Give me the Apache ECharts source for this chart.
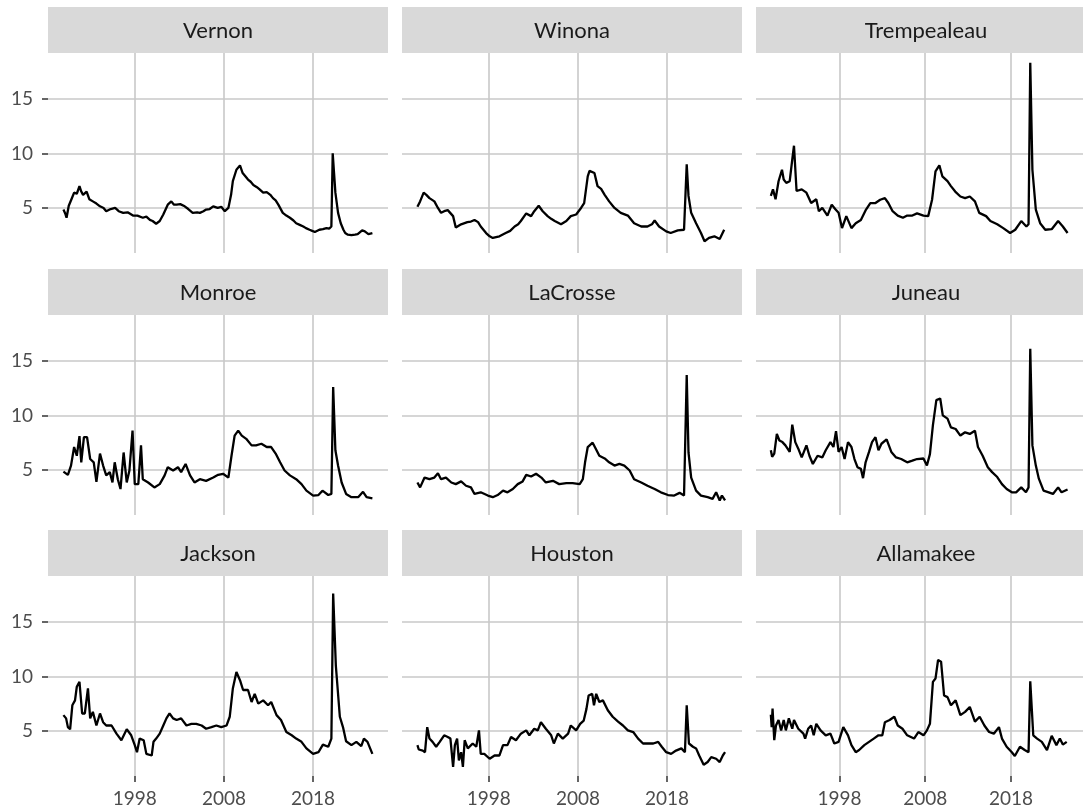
<!DOCTYPE html>
<html>
<head>
<meta charset="utf-8">
<script src="https://cdn.jsdelivr.net/npm/echarts@6/dist/echarts.min.js"></script>
<style>
  html, body { margin: 0; padding: 0; background: #fff; }
  #chart { width: 1083px; height: 810px; }
</style>
</head>
<body>
<div id="chart"></div>
<script>
// monthly unemployment rate as [year, rate]
var vernon = [[1990.0, 4.85], [1990.2, 4.5], [1990.35, 4.1], [1990.6, 5.2], [1990.9, 5.8], [1991.2, 6.4], [1991.5, 6.3], [1991.8, 7.0], [1992.0, 6.5], [1992.2, 6.2], [1992.6, 6.5], [1992.9, 5.8], [1993.3, 5.6], [1993.7, 5.4], [1994.1, 5.15], [1994.5, 5.0], [1994.8, 4.7], [1995.3, 4.9], [1995.8, 5.0], [1996.2, 4.7], [1996.7, 4.55], [1997.2, 4.6], [1997.8, 4.3], [1998.3, 4.3], [1998.9, 4.1], [1999.3, 4.2], [1999.7, 3.9], [2000.0, 3.8], [2000.4, 3.55], [2000.8, 3.8], [2001.2, 4.4], [2001.7, 5.3], [2002.1, 5.6], [2002.4, 5.3], [2002.7, 5.3], [2003.1, 5.35], [2003.6, 5.15], [2004.0, 4.9], [2004.5, 4.55], [2005.0, 4.6], [2005.3, 4.55], [2005.7, 4.7], [2006.0, 4.85], [2006.4, 4.9], [2006.8, 5.15], [2007.3, 5.0], [2007.7, 5.1], [2008.1, 4.7], [2008.5, 5.0], [2008.8, 6.2], [2009.0, 7.45], [2009.4, 8.5], [2009.8, 8.9], [2010.1, 8.2], [2010.4, 7.9], [2010.7, 7.6], [2011.0, 7.4], [2011.3, 7.1], [2011.7, 6.9], [2012.0, 6.7], [2012.4, 6.4], [2012.8, 6.45], [2013.2, 6.2], [2013.5, 5.9], [2013.8, 5.7], [2014.1, 5.3], [2014.6, 4.55], [2015.0, 4.3], [2015.4, 4.1], [2015.8, 3.85], [2016.1, 3.6], [2016.5, 3.45], [2016.9, 3.3], [2017.2, 3.15], [2017.6, 3.0], [2017.9, 2.9], [2018.2, 2.8], [2018.7, 3.0], [2019.1, 3.05], [2019.5, 3.15], [2019.8, 3.1], [2020.05, 3.3], [2020.2, 10.0], [2020.35, 8.2], [2020.5, 6.4], [2020.8, 4.55], [2021.1, 3.6], [2021.4, 3.0], [2021.6, 2.7], [2021.9, 2.55], [2022.3, 2.5], [2022.7, 2.55], [2023.0, 2.6], [2023.2, 2.75], [2023.5, 2.95], [2023.8, 2.85], [2024.2, 2.6], [2024.65, 2.7]];
var winona = [[1990.0, 5.1], [1990.3, 5.6], [1990.7, 6.4], [1991.0, 6.2], [1991.35, 5.9], [1991.9, 5.6], [1992.3, 5.0], [1992.65, 4.55], [1993.0, 4.7], [1993.4, 4.8], [1994.0, 4.25], [1994.3, 3.2], [1994.9, 3.5], [1995.6, 3.7], [1996.0, 3.75], [1996.4, 3.9], [1996.8, 3.7], [1997.1, 3.3], [1997.7, 2.7], [1998.1, 2.4], [1998.45, 2.25], [1999.2, 2.4], [1999.9, 2.7], [2000.4, 2.9], [2000.9, 3.3], [2001.3, 3.5], [2001.6, 3.8], [2002.2, 4.5], [2002.75, 4.25], [2003.1, 4.7], [2003.6, 5.2], [2004.05, 4.7], [2004.6, 4.25], [2005.0, 4.0], [2005.4, 3.8], [2006.1, 3.5], [2006.7, 3.8], [2007.2, 4.25], [2007.8, 4.4], [2008.35, 5.0], [2008.7, 5.45], [2009.1, 7.9], [2009.3, 8.4], [2009.5, 8.5], [2009.85, 8.2], [2010.2, 7.0], [2010.6, 6.75], [2011.0, 6.2], [2011.5, 5.6], [2012.1, 5.0], [2012.8, 4.55], [2013.6, 4.3], [2014.3, 3.6], [2015.1, 3.3], [2015.8, 3.3], [2016.3, 3.5], [2016.6, 3.85], [2017.1, 3.3], [2017.9, 2.85], [2018.4, 2.7], [2019.2, 2.95], [2019.9, 3.0], [2020.2, 9.0], [2020.4, 6.1], [2020.7, 4.55], [2021.25, 3.6], [2021.8, 2.7], [2022.2, 1.95], [2022.7, 2.25], [2023.3, 2.4], [2023.9, 2.15], [2024.4, 3.0]];
var trempealeau = [[1990.0, 6.1], [1990.25, 6.7], [1990.55, 5.8], [1990.9, 7.45], [1991.3, 8.5], [1991.5, 7.6], [1991.8, 7.3], [1992.2, 7.45], [1992.5, 9.45], [1992.7, 10.7], [1993.0, 6.55], [1993.6, 6.7], [1994.15, 6.4], [1994.7, 5.45], [1995.3, 5.8], [1995.6, 4.7], [1996.0, 5.0], [1996.6, 4.3], [1997.1, 5.3], [1997.5, 4.9], [1997.9, 4.55], [1998.3, 3.15], [1998.8, 4.25], [1999.4, 3.15], [1999.9, 3.6], [2000.5, 3.9], [2001.1, 4.85], [2001.6, 5.45], [2002.2, 5.45], [2002.75, 5.75], [2003.3, 5.9], [2003.7, 5.45], [2004.2, 4.7], [2004.8, 4.3], [2005.4, 4.1], [2005.9, 4.3], [2006.5, 4.3], [2007.05, 4.5], [2007.8, 4.3], [2008.35, 4.25], [2008.8, 5.75], [2009.2, 8.35], [2009.65, 8.9], [2010.0, 7.9], [2010.6, 7.45], [2011.0, 7.0], [2011.5, 6.5], [2012.1, 6.05], [2012.65, 5.9], [2013.2, 6.05], [2013.8, 5.6], [2014.3, 4.55], [2015.1, 4.25], [2015.6, 3.8], [2016.4, 3.5], [2017.1, 3.15], [2017.9, 2.7], [2018.5, 3.0], [2019.2, 3.8], [2019.8, 3.3], [2020.05, 3.5], [2020.25, 18.3], [2020.5, 8.5], [2020.9, 4.85], [2021.4, 3.6], [2022.0, 3.0], [2022.75, 3.05], [2023.5, 3.8], [2024.05, 3.3], [2024.6, 2.7]];
var monroe = [[1990.0, 4.85], [1990.5, 4.55], [1990.85, 5.4], [1991.2, 7.1], [1991.5, 6.3], [1991.8, 8.1], [1992.0, 5.7], [1992.3, 8.0], [1992.65, 8.0], [1993.0, 6.0], [1993.4, 5.7], [1993.7, 3.9], [1994.1, 6.5], [1994.45, 5.4], [1994.8, 4.5], [1995.2, 4.8], [1995.5, 3.85], [1995.75, 5.7], [1996.1, 4.15], [1996.4, 3.25], [1996.75, 6.6], [1997.1, 3.85], [1997.4, 4.95], [1997.75, 8.6], [1998.0, 3.7], [1998.4, 3.7], [1998.7, 7.25], [1998.9, 4.15], [1999.5, 3.85], [2000.2, 3.4], [2000.8, 3.7], [2001.35, 4.5], [2001.7, 5.25], [2002.3, 4.95], [2002.85, 5.25], [2003.2, 4.8], [2003.7, 5.55], [2004.2, 4.5], [2004.7, 3.85], [2005.3, 4.15], [2006.0, 4.0], [2006.8, 4.3], [2007.35, 4.55], [2007.9, 4.65], [2008.5, 4.3], [2008.85, 6.3], [2009.2, 8.15], [2009.6, 8.6], [2010.0, 8.15], [2010.5, 7.85], [2011.1, 7.25], [2011.6, 7.25], [2012.2, 7.4], [2012.8, 7.1], [2013.3, 7.1], [2013.8, 6.5], [2014.3, 5.7], [2014.8, 4.95], [2015.4, 4.5], [2016.1, 4.15], [2016.7, 3.7], [2017.25, 3.1], [2018.0, 2.65], [2018.6, 2.7], [2019.05, 3.1], [2019.7, 2.7], [2020.05, 2.8], [2020.25, 12.6], [2020.5, 6.8], [2020.8, 5.4], [2021.2, 3.85], [2021.7, 2.8], [2022.3, 2.5], [2023.05, 2.5], [2023.6, 3.0], [2024.0, 2.5], [2024.65, 2.4]];
var lacrosse = [[1990.0, 3.85], [1990.3, 3.4], [1990.8, 4.3], [1991.35, 4.15], [1991.9, 4.3], [1992.3, 4.7], [1992.65, 4.15], [1993.2, 4.3], [1993.8, 3.85], [1994.3, 3.7], [1994.9, 3.95], [1995.45, 3.55], [1996.0, 3.4], [1996.4, 2.8], [1997.1, 2.95], [1997.9, 2.65], [1998.45, 2.5], [1999.0, 2.7], [1999.6, 3.1], [2000.1, 2.95], [2000.7, 3.25], [2001.25, 3.7], [2001.8, 3.95], [2002.2, 4.55], [2002.75, 4.4], [2003.3, 4.65], [2003.9, 4.3], [2004.4, 3.85], [2005.2, 4.0], [2005.9, 3.7], [2006.7, 3.8], [2007.4, 3.8], [2008.2, 3.7], [2008.55, 4.15], [2008.8, 5.7], [2009.1, 7.1], [2009.65, 7.5], [2010.0, 6.95], [2010.4, 6.3], [2011.0, 6.05], [2011.5, 5.7], [2012.1, 5.4], [2012.65, 5.55], [2013.2, 5.4], [2013.8, 4.95], [2014.3, 4.15], [2015.1, 3.85], [2015.8, 3.55], [2016.6, 3.25], [2017.3, 2.95], [2018.1, 2.7], [2018.8, 2.65], [2019.4, 2.9], [2019.9, 2.65], [2020.2, 13.7], [2020.4, 6.6], [2020.7, 4.3], [2021.25, 3.1], [2021.8, 2.65], [2022.55, 2.5], [2023.1, 2.35], [2023.5, 2.95], [2023.9, 2.2], [2024.15, 2.65], [2024.5, 2.2]];
var juneau = [[1990.0, 6.8], [1990.15, 6.2], [1990.4, 6.5], [1990.7, 8.3], [1991.0, 7.7], [1991.35, 7.55], [1991.7, 7.25], [1992.2, 6.65], [1992.5, 9.15], [1992.85, 7.55], [1993.2, 6.95], [1993.6, 6.15], [1994.15, 7.25], [1994.5, 6.3], [1994.9, 5.55], [1995.45, 6.3], [1996.0, 6.15], [1996.4, 6.8], [1996.95, 7.55], [1997.3, 7.1], [1997.6, 8.55], [1997.9, 6.65], [1998.25, 7.1], [1998.6, 6.0], [1999.0, 7.55], [1999.4, 7.1], [1999.75, 6.0], [2000.1, 5.25], [2000.5, 5.1], [2000.75, 4.25], [2001.05, 5.7], [2001.45, 6.65], [2001.8, 7.55], [2002.2, 8.0], [2002.55, 6.8], [2002.9, 7.4], [2003.5, 7.8], [2004.05, 6.65], [2004.6, 6.15], [2005.2, 6.0], [2005.9, 5.7], [2006.5, 5.85], [2007.05, 6.0], [2007.8, 6.05], [2008.2, 5.4], [2008.55, 6.45], [2008.9, 9.1], [2009.3, 11.4], [2009.75, 11.55], [2010.05, 10.0], [2010.6, 9.7], [2011.0, 8.9], [2011.55, 8.75], [2012.1, 8.15], [2012.65, 8.45], [2013.2, 8.3], [2013.8, 8.6], [2014.15, 7.1], [2014.7, 6.3], [2015.3, 5.25], [2015.8, 4.8], [2016.4, 4.35], [2016.95, 3.7], [2017.5, 3.25], [2018.1, 2.95], [2018.6, 2.95], [2019.2, 3.4], [2019.75, 2.95], [2020.05, 3.4], [2020.25, 16.1], [2020.5, 7.25], [2020.9, 5.4], [2021.25, 4.2], [2021.8, 3.1], [2022.4, 2.95], [2022.9, 2.8], [2023.5, 3.4], [2023.9, 2.95], [2024.6, 3.2]];
var jackson = [[1990.0, 6.45], [1990.3, 6.15], [1990.5, 5.35], [1990.75, 5.15], [1991.0, 7.35], [1991.3, 7.8], [1991.5, 9.05], [1991.8, 9.5], [1992.1, 6.6], [1992.4, 6.6], [1992.75, 8.9], [1993.0, 6.15], [1993.3, 6.75], [1993.7, 5.5], [1994.1, 6.6], [1994.45, 5.8], [1994.8, 5.5], [1995.4, 5.5], [1995.95, 4.75], [1996.5, 4.15], [1997.1, 5.15], [1997.6, 4.6], [1998.0, 3.7], [1998.25, 3.05], [1998.55, 4.3], [1999.0, 4.15], [1999.3, 2.9], [1999.9, 2.75], [2000.1, 4.0], [2000.4, 4.3], [2000.8, 4.75], [2001.2, 5.5], [2001.55, 6.15], [2001.9, 6.6], [2002.3, 6.15], [2002.7, 6.0], [2003.2, 6.15], [2003.8, 5.5], [2004.35, 5.65], [2004.9, 5.65], [2005.5, 5.5], [2006.0, 5.2], [2006.6, 5.35], [2007.15, 5.5], [2007.7, 5.35], [2008.3, 5.5], [2008.65, 6.3], [2009.0, 8.9], [2009.4, 10.4], [2009.8, 9.65], [2010.15, 8.75], [2010.7, 8.75], [2011.1, 7.65], [2011.45, 8.4], [2011.85, 7.5], [2012.4, 7.8], [2012.95, 7.35], [2013.3, 7.65], [2013.9, 6.45], [2014.4, 6.0], [2015.0, 4.9], [2015.6, 4.6], [2016.1, 4.3], [2016.7, 4.0], [2017.25, 3.4], [2018.0, 2.9], [2018.6, 3.05], [2019.1, 3.75], [2019.7, 3.55], [2020.05, 4.3], [2020.25, 17.6], [2020.55, 11.0], [2021.0, 6.3], [2021.35, 5.35], [2021.7, 4.05], [2022.3, 3.7], [2022.85, 4.0], [2023.4, 3.6], [2023.7, 4.3], [2024.1, 4.0], [2024.65, 2.9]];
var houston = [[1990.0, 3.7], [1990.15, 3.3], [1990.6, 3.2], [1990.85, 3.05], [1991.1, 5.35], [1991.35, 4.3], [1991.7, 4.0], [1992.1, 3.55], [1992.5, 4.0], [1993.0, 4.6], [1993.4, 4.45], [1993.7, 4.3], [1994.0, 1.7], [1994.2, 3.7], [1994.45, 4.3], [1994.65, 2.3], [1994.9, 3.05], [1995.1, 1.7], [1995.3, 4.15], [1995.65, 3.4], [1996.2, 3.85], [1996.6, 3.55], [1996.9, 5.05], [1997.1, 2.9], [1997.5, 2.9], [1998.1, 2.45], [1998.65, 2.75], [1999.2, 2.75], [1999.6, 3.7], [2000.1, 3.7], [2000.5, 4.45], [2001.05, 4.15], [2001.6, 4.75], [2002.2, 5.05], [2002.55, 4.6], [2003.1, 5.2], [2003.5, 5.05], [2003.85, 5.8], [2004.4, 5.2], [2005.0, 4.6], [2005.3, 3.85], [2005.75, 4.75], [2006.3, 4.3], [2006.9, 4.75], [2007.2, 5.5], [2007.8, 5.05], [2008.25, 5.65], [2008.65, 5.95], [2008.95, 7.0], [2009.2, 8.25], [2009.6, 8.4], [2009.8, 7.35], [2010.05, 8.4], [2010.4, 7.65], [2010.8, 7.8], [2011.35, 6.9], [2011.9, 6.3], [2012.5, 5.85], [2013.05, 5.5], [2013.6, 5.05], [2014.2, 4.9], [2014.75, 4.3], [2015.3, 3.85], [2015.9, 3.85], [2016.45, 3.85], [2017.0, 4.0], [2017.4, 3.55], [2017.9, 3.05], [2018.45, 2.9], [2019.0, 3.2], [2019.6, 3.4], [2020.0, 3.05], [2020.2, 7.35], [2020.45, 3.85], [2020.9, 3.55], [2021.25, 3.4], [2021.6, 2.75], [2022.1, 1.9], [2022.55, 2.15], [2022.95, 2.6], [2023.5, 2.45], [2023.9, 2.15], [2024.25, 2.75], [2024.5, 3.05]];
var allamakee = [[1990.0, 6.5], [1990.1, 5.35], [1990.2, 7.05], [1990.4, 4.15], [1990.6, 5.5], [1990.9, 6.0], [1991.2, 5.05], [1991.5, 6.0], [1991.75, 5.05], [1992.1, 6.15], [1992.5, 5.2], [1992.7, 6.0], [1993.2, 5.2], [1993.8, 4.75], [1994.0, 4.3], [1994.35, 5.2], [1994.7, 5.5], [1995.0, 4.6], [1995.3, 5.65], [1995.5, 5.8], [1995.8, 5.05], [1996.4, 4.6], [1996.95, 4.75], [1997.4, 3.85], [1997.9, 4.0], [1998.45, 5.35], [1999.0, 4.6], [1999.4, 3.7], [1999.9, 3.05], [2000.3, 3.25], [2000.9, 3.7], [2001.45, 4.0], [2002.0, 4.3], [2002.55, 4.6], [2003.0, 4.6], [2003.3, 5.8], [2003.85, 6.0], [2004.4, 6.3], [2004.8, 5.5], [2005.35, 5.2], [2005.9, 4.6], [2006.7, 4.3], [2007.2, 4.9], [2007.8, 4.6], [2008.2, 5.05], [2008.55, 5.65], [2008.9, 9.5], [2009.2, 9.8], [2009.5, 11.5], [2009.85, 11.35], [2010.2, 8.25], [2010.6, 8.1], [2011.0, 7.35], [2011.55, 7.8], [2012.1, 6.45], [2012.65, 6.75], [2013.2, 7.2], [2013.8, 5.85], [2014.35, 6.3], [2014.9, 5.5], [2015.45, 4.9], [2016.0, 4.75], [2016.6, 5.35], [2016.95, 4.3], [2017.5, 3.55], [2018.1, 3.05], [2018.45, 2.7], [2019.05, 3.55], [2019.6, 3.25], [2020.05, 3.05], [2020.25, 9.55], [2020.6, 4.6], [2021.05, 4.3], [2021.6, 4.0], [2022.2, 3.25], [2022.75, 4.55], [2023.3, 3.7], [2023.7, 4.3], [2024.05, 3.75], [2024.5, 4.0]];

var counties = ['Vernon', 'Winona', 'Trempealeau', 'Monroe', 'LaCrosse', 'Juneau', 'Jackson', 'Houston', 'Allamakee'];
var seriesData = [vernon, winona, trempealeau, monroe, lacrosse, juneau, jackson, houston, allamakee];
var yearTicks = [1998, 2008, 2018];
var rateTicks = [5, 10, 15];

var colLeft = [48, 402, 756];
var rowTop = [53, 315, 576];
var panelW = 340, panelH = 200, stripH = 46;
var font = 'Lato, "Open Sans", sans-serif';

var chartDom = document.getElementById('chart');
var myChart = echarts.init(chartDom);

var grids = [], xAxes = [], yAxes = [], series = [], graphics = [];
counties.forEach(function (name, i) {
  var row = Math.floor(i / 3), col = i % 3;
  grids.push({ left: colLeft[col], top: rowTop[row], width: panelW, height: panelH, containLabel: false });
  xAxes.push({
    type: 'value', gridIndex: i, min: 1988.27, max: 2026.4,
    axisLine: { show: false },
    axisTick: { show: row === 2, customValues: yearTicks, length: 6, lineStyle: { color: '#333', width: 1.5 } },
    axisLabel: {
      show: row === 2, customValues: yearTicks, margin: 13, color: '#4d4d4d', fontSize: 19, fontFamily: font,
      formatter: function (v) { return String(v) }
    },
    splitLine: { show: true, lineStyle: { color: '#c8c8c8', width: 1.6 } }
  });
  yAxes.push({
    type: 'value', gridIndex: i, min: 0.87, max: 19.2,
    axisLine: { show: false },
    axisTick: { show: col === 0, customValues: rateTicks, length: 6, lineStyle: { color: '#333', width: 1.5 } },
    axisLabel: { show: col === 0, customValues: rateTicks, margin: 15, color: '#4d4d4d', fontSize: 19, fontFamily: font },
    splitLine: { show: true, lineStyle: { color: '#c8c8c8', width: 1.6 } }
  });
  series.push({
    type: 'line', xAxisIndex: i, yAxisIndex: i, data: seriesData[i],
    showSymbol: false, symbol: 'none',
    lineStyle: { color: '#000', width: 2.3 }
  });
  graphics.push({
    type: 'rect', left: colLeft[col], top: rowTop[row] - stripH,
    shape: { width: panelW, height: stripH },
    style: { fill: '#d9d9d9' }, silent: true
  });
  graphics.push({
    type: 'text', x: colLeft[col] + panelW / 2, y: rowTop[row] - stripH / 2 + 1,
    style: { text: name, fill: '#1a1a1a', fontSize: 22, fontFamily: font, align: 'center', verticalAlign: 'middle' },
    silent: true
  });
});

var option = {
  animation: false,
  backgroundColor: '#ffffff',
  grid: grids,
  xAxis: xAxes,
  yAxis: yAxes,
  series: series,
  graphic: graphics
};
option && myChart.setOption(option);
</script>
</body>
</html>
